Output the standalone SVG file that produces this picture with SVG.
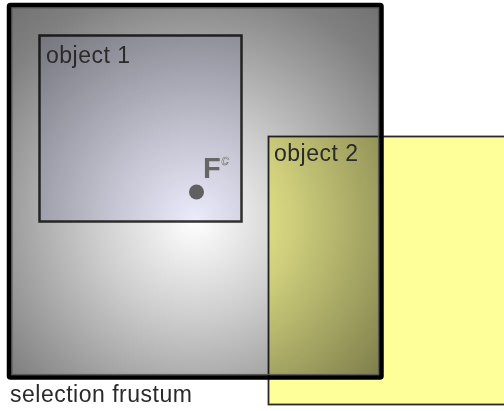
<svg xmlns="http://www.w3.org/2000/svg" width="504" height="411" viewBox="0 0 504 411">
<defs>
<radialGradient id="fg" gradientUnits="userSpaceOnUse" cx="195" cy="220" r="300">
<stop offset="0" stop-color="#ffffff"/>
<stop offset="0.33" stop-color="#cdcdcd"/>
<stop offset="0.79" stop-color="#808080"/>
<stop offset="1" stop-color="#6c6c6c"/>
</radialGradient>
<style>
.lbl{font-family:"Liberation Sans",Arial,sans-serif;font-size:23px;letter-spacing:0.5px;fill:#2a2a2a}
</style>
</defs>
<rect width="504" height="411" fill="#ffffff"/>
<g id="frustum-fill">
<rect x="9" y="5" width="372.5" height="372.5" rx="1.5" fill="url(#fg)"/>
</g>
<g id="object1">
<rect x="39.5" y="35.5" width="202" height="186" fill="#ebebfc" style="mix-blend-mode:multiply" stroke="#333333" stroke-width="2.5"/>
<text class="lbl" x="46" y="63">object 1</text>
</g>
<g id="object2">
<rect x="268.5" y="136.5" width="240" height="268" fill="#ffff99" style="mix-blend-mode:multiply" stroke="#2a2a2a" stroke-width="1.8"/>
<text class="lbl" x="274" y="161">object 2</text>
</g>
<g id="frustum">
<rect x="12" y="8" width="366.5" height="366.5" fill="none" stroke="#5a5a5a" stroke-width="1.2"/>
<rect x="9" y="5" width="372.5" height="372.5" rx="1.5" fill="none" stroke="#000000" stroke-width="4.5"/>
<text class="lbl" x="10" y="402">selection frustum</text>
</g>
<g id="fc">
<circle cx="196.5" cy="192" r="7.5" fill="#606060"/>
<text x="203" y="177.5" font-family="Liberation Sans,Arial,sans-serif" font-weight="bold" font-size="29" fill="#666666">F</text>
<text x="221.5" y="165" font-family="Liberation Sans,Arial,sans-serif" font-style="italic" font-size="15" fill="#ffffff" stroke="#666666" stroke-width="0.6">c</text>
</g>
</svg>
